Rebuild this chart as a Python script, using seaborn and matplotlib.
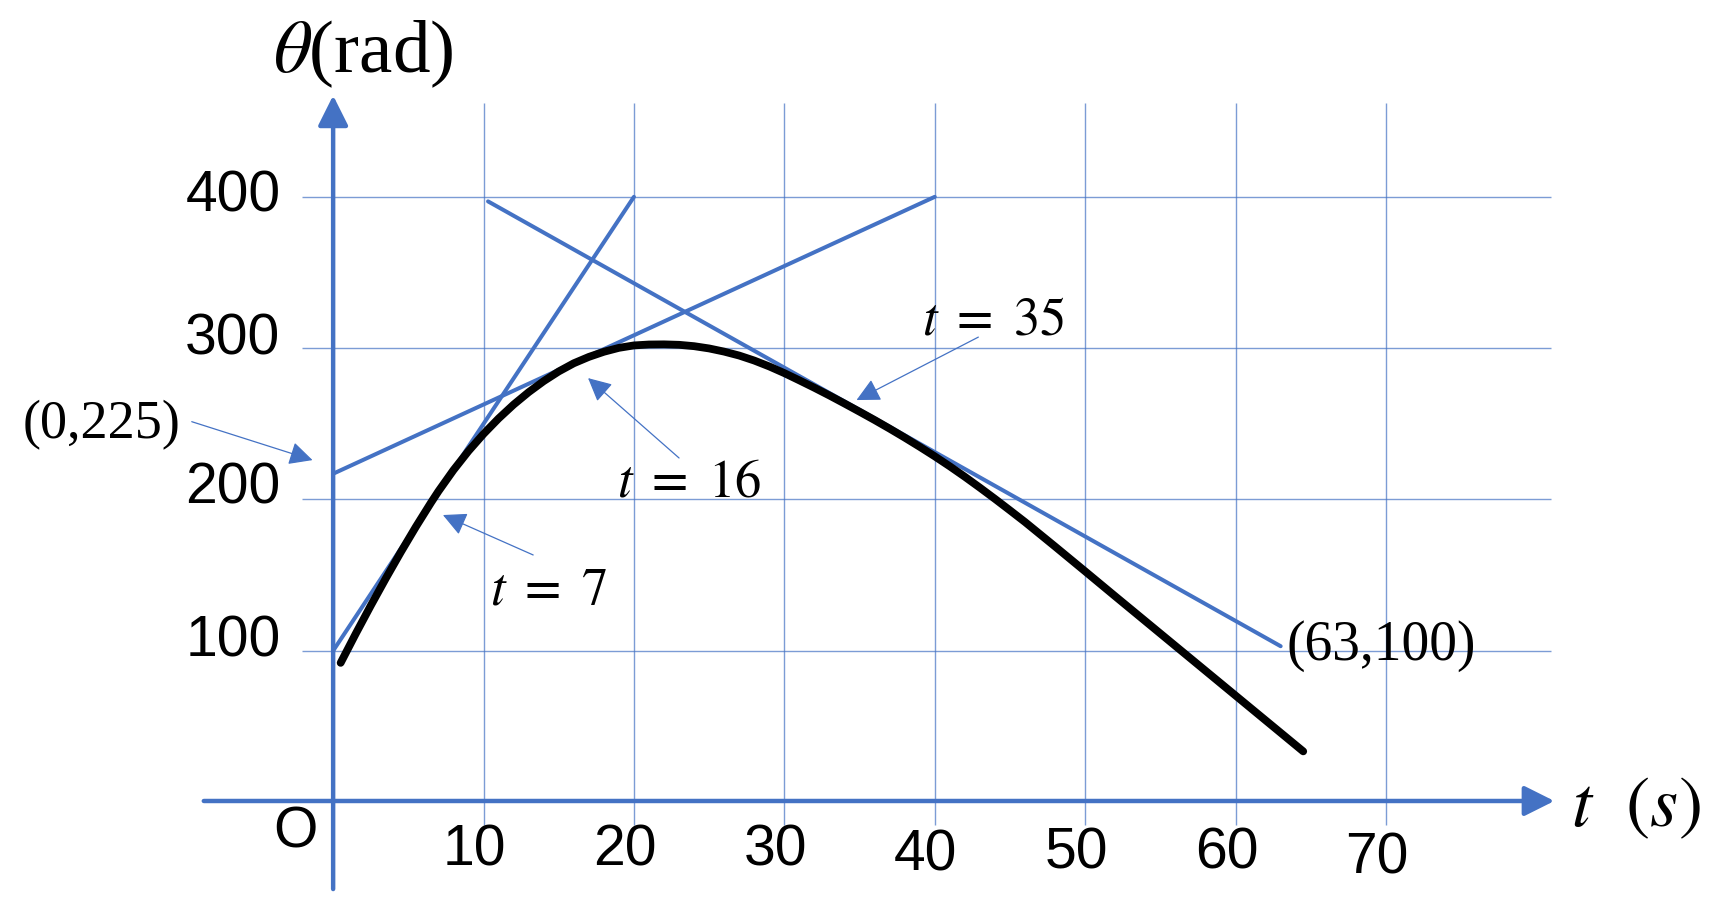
import matplotlib
matplotlib.use('Agg')
import matplotlib.pyplot as plt
import pandas as pd
import seaborn as sns

# theta(t)
curve_t = [0.5, 1.5, 2.5, 3.5, 4.5, 5.5, 6.5, 7, 8, 9, 10, 11, 12, 13, 14, 15, 16,
           17, 18, 19, 20, 21, 22, 23, 24, 25, 26, 27, 28, 29, 30, 31, 32, 33, 34,
           35, 36, 37, 38, 39, 40, 41, 42, 43, 44, 45, 46, 47, 48, 49, 50, 52, 54,
           56, 58, 60, 62, 64, 64.5]
curve_theta = [92, 111.2, 129.8, 147.8, 165.2, 181.9, 197.8, 205.4, 219.4, 232,
               243.3, 253.5, 262.7, 270.9, 278.2, 284.6, 290, 294.2, 297.6, 300.2,
               301.8, 302.4, 302.5, 302.2, 301.3, 299.8, 297.7, 295.1, 291.8, 287.9,
               283.5, 278.7, 273.8, 268.7, 263.4, 258, 252.5, 246.8, 240.9, 234.8,
               228.5, 221.9, 215, 207.8, 200.4, 192.8, 185.1, 177, 168.9, 160.7,
               152.5, 136, 119.6, 103.2, 86.8, 70.4, 54, 37.6, 33.5]

# tangent lines, end points as drawn
tan7_t = [0, 20]
tan7_theta = [100, 400]
tan16_t = [0, 40]
tan16_theta = [217, 400]
tan35_t = [10.3, 63]
tan35_theta = [397, 103]

x_ticks = [10, 20, 30, 40, 50, 60, 70]
y_ticks = [100, 200, 300, 400]

point_labels = ['(0,225)', '(63,100)']
tangent_labels = [r'$t\ =\ 7$', r'$t\ =\ 16$', r'$t\ =\ 35$']

BLUE = '#4472C4'

sns.set_theme(style='white')
plt.rcParams['font.family'] = ['Liberation Sans', 'DejaVu Sans']
plt.rcParams['mathtext.fontset'] = 'stix'
plt.rcParams['text.color'] = 'black'

fig = plt.figure(figsize=(17.29, 9.24), dpi=100)
ax = fig.add_axes([0, 0, 1, 1])

# grid
ax.vlines(x_ticks, -15, 462, color=BLUE, lw=1.0, alpha=0.7, zorder=1)
ax.hlines(y_ticks, -2.1, 81, color=BLUE, lw=1.0, alpha=0.7, zorder=1)

# axes with arrow heads
axis_arrow = dict(arrowstyle='-|>,head_length=0.4,head_width=0.2', mutation_scale=46,
                  lw=3.2, color=BLUE, shrinkA=0, shrinkB=0)
ax.annotate('', xy=(81.2, 0.7), xytext=(-8.6, 0.7), arrowprops=axis_arrow, zorder=3)
ax.annotate('', xy=(0, 467), xytext=(0, -57.5), arrowprops=axis_arrow, zorder=3)

# tangents
tangents = pd.DataFrame({
    't': tan7_t + tan16_t + tan35_t,
    'theta': tan7_theta + tan16_theta + tan35_theta,
    'line': ['t7'] * 2 + ['t16'] * 2 + ['t35'] * 2,
})
sns.lineplot(data=tangents, x='t', y='theta', units='line', estimator=None,
             sort=False, color=BLUE, lw=2.9, ax=ax, legend=False, zorder=4)

# theta(t)
sns.lineplot(x=curve_t, y=curve_theta, estimator=None, sort=False,
             color='black', lw=5.6, ax=ax, zorder=5)

# tick labels
x_label_y = [-32, -32, -32, -35, -34, -34, -37]
for v, yy in zip(x_ticks, x_label_y):
    ax.text(v - 0.6, yy, str(v), ha='center', va='center', fontsize=41)
y_label_dy = [6, 7, 6, 0]
for v, dy in zip(y_ticks, y_label_dy):
    ax.text(-3.5, v + dy, str(v), ha='right', va='center', fontsize=41)
ax.text(-2.5, -20, 'O', ha='center', va='center', fontsize=41)

ax.text(2.0, 494, r'$\theta$(rad)', ha='center', va='center', fontsize=54,
        family='Liberation Serif')
ax.text(86.6, -4, r'$t\ \ (s)$', ha='center', va='center', fontsize=52)

# annotations
small_arrow = dict(arrowstyle='-|>,head_length=0.4,head_width=0.2', mutation_scale=36,
                   lw=0.9, color=BLUE, shrinkA=0, shrinkB=0)
ax.text(-15.4, 249, point_labels[0], ha='center', va='center', fontsize=39,
        family='Liberation Serif')
ax.annotate('', xy=(-1.37, 226), xytext=(-9.4, 251.4), arrowprops=small_arrow)
ax.text(63.4, 103, point_labels[1], ha='left', va='center', fontsize=40,
        family='Liberation Serif')

ax.text(14.3, 140, tangent_labels[0], ha='center', va='center', fontsize=38)
ax.annotate('', xy=(7.3, 189.7), xytext=(13.3, 163.3), arrowprops=small_arrow)
ax.text(23.7, 211.5, tangent_labels[1], ha='center', va='center', fontsize=38)
ax.annotate('', xy=(16.95, 280.2), xytext=(23.0, 227.4), arrowprops=small_arrow)
ax.text(43.9, 318.6, tangent_labels[2], ha='center', va='center', fontsize=38)
ax.annotate('', xy=(34.8, 265.7), xytext=(42.9, 307.3), arrowprops=small_arrow)

ax.set_xlim(-22.15, 92.81)
ax.set_ylim(-80.6, 530.1)
ax.axis('off')

fig.savefig('out.png', dpi=100, facecolor='white')
